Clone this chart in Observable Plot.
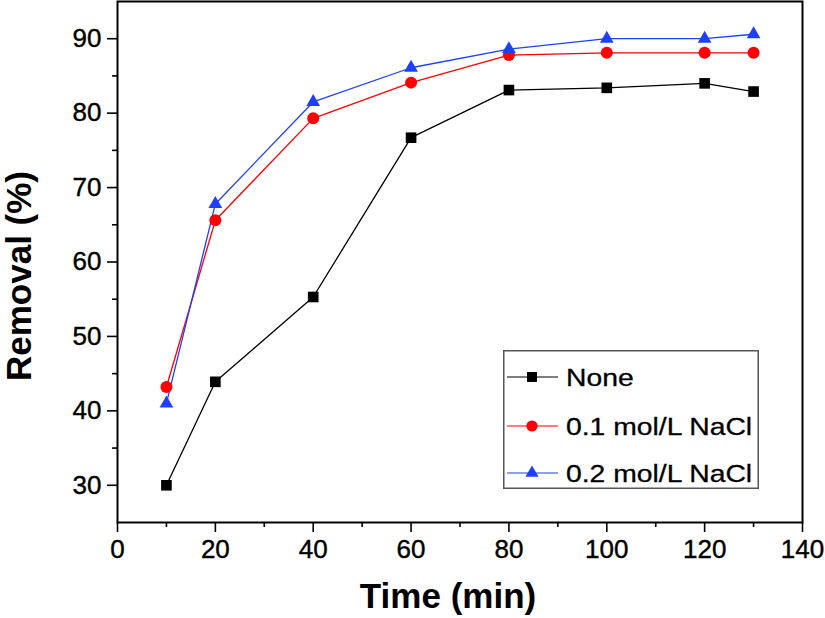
<!DOCTYPE html>
<html>
<head>
<meta charset="utf-8">
<script src="https://cdn.jsdelivr.net/npm/d3@7"></script>
<script src="https://cdn.jsdelivr.net/npm/@observablehq/plot@0.6"></script>
<style>
  html, body { margin: 0; padding: 0; background: #fff; }
  #wrap { position: relative; width: 825px; height: 618px; font-family: "Liberation Sans", Arial, Helvetica, sans-serif; }
  #legend { position: absolute; left: 503px; top: 350px; }
</style>
</head>
<body>
<div id="wrap"><div id="legend"></div></div>
<script>
// ---- data ----
const time = [10, 20, 40, 60, 80, 100, 120, 130];
const removalNone = [30.0, 43.9, 55.3, 76.7, 83.1, 83.4, 84.0, 82.9];
const removalNaCl01 = [43.2, 65.6, 79.3, 84.1, 87.8, 88.1, 88.1, 88.1];
const removalNaCl02 = [41.0, 67.8, 81.5, 86.1, 88.6, 90.0, 90.0, 90.6];
const seriesNames = ["None", "0.1 mol/L NaCl", "0.2 mol/L NaCl"];
const seriesColors = ["#000000", "#ff0000", "#1f3fff"];
const seriesSymbols = ["square", "circle", "triangle"];
const xTicks = [0, 20, 40, 60, 80, 100, 120, 140];
const xMinorTicks = [10, 30, 50, 70, 90, 110, 130];
const yTicks = [30, 40, 50, 60, 70, 80, 90];
const yMinorTicks = [35, 45, 55, 65, 75, 85];
const xTitle = "Time (min)";
const yTitle = "Removal (%)";

const allSeries = [removalNone, removalNaCl01, removalNaCl02];
const rows = [];
allSeries.forEach((vals, si) => {
  vals.forEach((v, i) => rows.push({time: time[i], removal: v, series: seriesNames[si]}));
});

const font = "'Liberation Sans', Arial, Helvetica, sans-serif";

const chart = Plot.plot({
  width: 825,
  height: 618,
  marginLeft: 117,
  marginRight: 23,
  marginTop: 1,
  marginBottom: 96,
  style: {fontFamily: font, fontSize: "26px", background: "white", color: "black"},
  x: {domain: [0, 140], label: null},
  y: {domain: [25, 95], label: null},
  color: {domain: seriesNames, range: seriesColors},
  symbol: {domain: seriesNames, range: seriesSymbols},
  marks: [
    Plot.axisX({ticks: xTicks, tickSize: 10, tickPadding: 7, fontSize: 26, strokeWidth: 1.6, label: null}),
    Plot.axisX({ticks: xMinorTicks, tickSize: 5, tickFormat: () => "", strokeWidth: 1.6, label: null}),
    Plot.axisY({ticks: yTicks, tickSize: 10, tickPadding: 6, fontSize: 26, strokeWidth: 1.6, label: null}),
    Plot.axisY({ticks: yMinorTicks, tickSize: 5, tickFormat: () => "", strokeWidth: 1.6, label: null}),
    Plot.line(rows, {x: "time", y: "removal", z: "series", stroke: "series", strokeWidth: 1.3}),
    Plot.dot(rows, {filter: d => d.series !== seriesNames[2], x: "time", y: "removal", symbol: "series", fill: "series", stroke: "none", r: 6}),
    Plot.dot(rows, {filter: d => d.series === seriesNames[2], x: "time", y: "removal", symbol: "series", fill: "series", stroke: "none", r: 5.1}),
    Plot.frame({stroke: "black", strokeWidth: 2}),
    Plot.text([xTitle], {frameAnchor: "bottom", textAnchor: "middle", lineAnchor: "middle", dx: -12, dy: 74, fontSize: 35, fontWeight: "bold", fill: "black"}),
    Plot.text([yTitle], {frameAnchor: "left", textAnchor: "middle", lineAnchor: "middle", dx: -98, dy: 14, rotate: -90, fontSize: 35, fontWeight: "bold", fill: "black"})
  ]
});
// slightly heavier tick labels, like the reference
d3.select(chart).selectAll('g[aria-label$="tick label"] text')
  .attr("stroke", "black").attr("stroke-width", 0.4);
const wrap = document.getElementById("wrap");
wrap.insertBefore(chart, wrap.firstChild);

// ---- legend ----
const lw = 256, lh = 139;
const lsvg = d3.select("#legend").append("svg")
  .attr("width", lw).attr("height", lh)
  .style("display", "block");
lsvg.append("rect").attr("x", 0.75).attr("y", 0.75).attr("width", lw - 1.5).attr("height", lh - 1.5)
  .attr("fill", "white").attr("stroke", "#555").attr("stroke-width", 1.5);
const rowY = [27, 76, 123];
const symMap = {square: d3.symbolSquare, circle: d3.symbolCircle, triangle: d3.symbolTriangle};
seriesNames.forEach((name, i) => {
  const g = lsvg.append("g").attr("transform", `translate(0,${rowY[i]})`);
  g.append("line").attr("x1", 4).attr("x2", 55).attr("y1", 0).attr("y2", 0)
    .attr("stroke", seriesColors[i]).attr("stroke-width", 1.2);
  const r = i === 2 ? 4.9 : 5.6;
  g.append("path").attr("transform", "translate(29,0)")
    .attr("d", d3.symbol(symMap[seriesSymbols[i]], Math.PI * r * r)())
    .attr("fill", seriesColors[i]);
  g.append("text").attr("transform", "translate(63,0) scale(1.18,1)").attr("dy", "0.36em")
    .attr("font-family", font).attr("font-size", 24).attr("fill", "black")
    .attr("stroke", "black").attr("stroke-width", 0.3).text(name);
});
</script>
</body>
</html>
